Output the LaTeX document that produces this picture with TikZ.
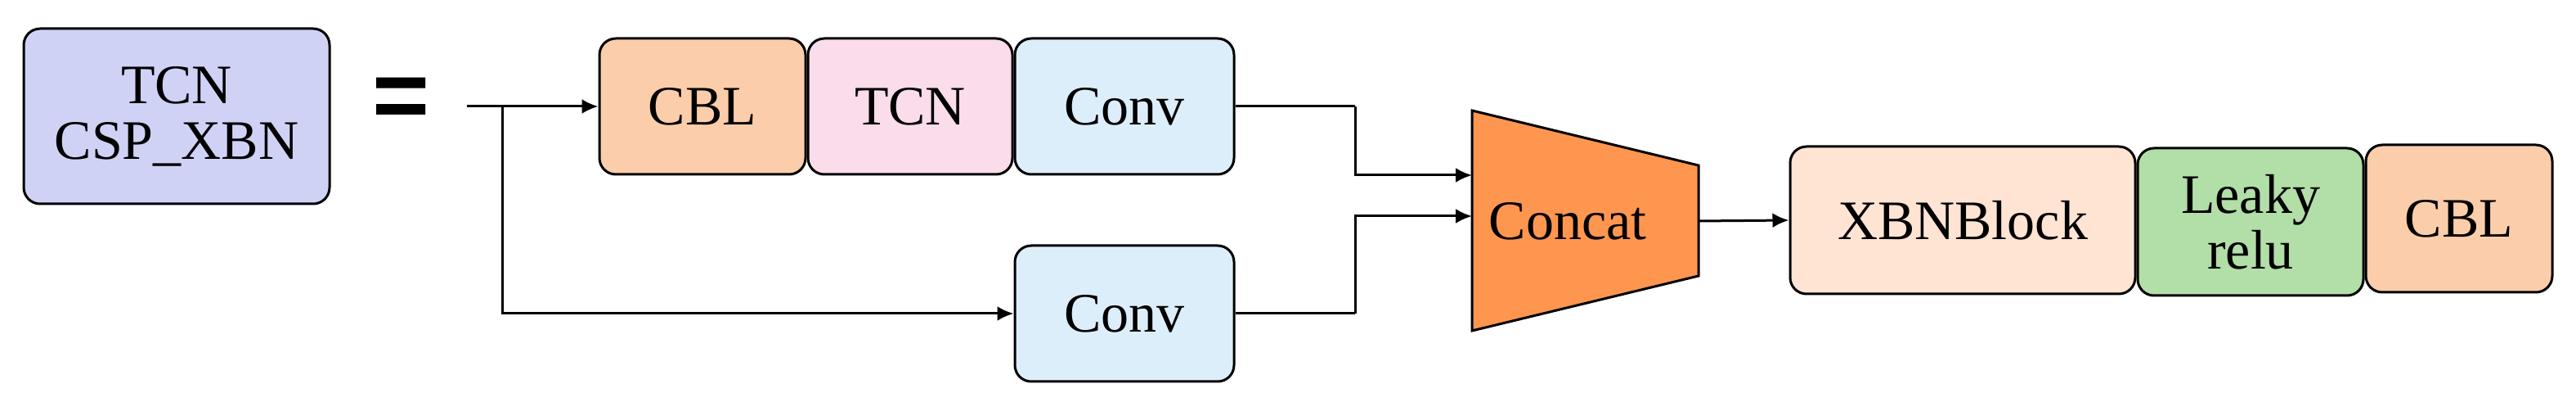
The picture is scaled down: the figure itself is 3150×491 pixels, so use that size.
\documentclass[tikz,border=0pt]{standalone}
\usepackage{fontspec}
\setmainfont{Liberation Serif}
\newfontfamily\eqfont{Liberation Sans}
\usetikzlibrary{arrows.meta}
\definecolor{lavender}{RGB}{208,210,245}
\definecolor{peach}{RGB}{252,205,170}
\definecolor{pinkish}{RGB}{250,220,235}
\definecolor{skyish}{RGB}{220,238,250}
\definecolor{catorange}{RGB}{255,150,80}
\definecolor{cream}{RGB}{255,228,212}
\definecolor{leafy}{RGB}{178,222,168}
\tikzset{
  blk/.style={draw, line width=1.5pt, rounded corners=10pt, inner sep=0pt,
    align=center, font=\fontsize{34}{38}\selectfont},
  link/.style={line width=1.5pt},
  arr/.style={link, -{Latex[length=10pt,width=9pt]}}
}
\begin{document}
\begin{tikzpicture}[x=0.5pt,y=-0.5pt]
        \useasboundingbox (0,0) rectangle (3150,491);

        % Left: module name
        \node[blk, fill=lavender, minimum width=187pt, minimum height=107pt] (name) at (216,142) {TCN\\[-4pt]CSP\_XBN};
        \node[font=\eqfont\bfseries\fontsize{60}{60}\selectfont] (eq) at (491,126) {=};

        % Upper branch
        \node[blk, fill=peach, minimum width=126pt, minimum height=83pt] (cbl) at (859,130) {CBL};
        \node[blk, fill=pinkish, minimum width=125pt, minimum height=83pt] (tcn) at (1113,130) {TCN};
        \node[blk, fill=skyish, minimum width=134pt, minimum height=83pt] (convA) at (1375,130) {Conv};

        % Lower branch
        \node[blk, fill=skyish, minimum width=134pt, minimum height=83pt] (convB) at (1375,383) {Conv};

        % Concat trapezoid
        \draw[link, fill=catorange] (1800,135) -- (2077,202) -- (2077,337) -- (1800,404) -- cycle;
        \node[font=\fontsize{34}{38}\selectfont] (cat) at (1917,270) {Concat};
        \coordinate (catA) at (1800,214);
        \coordinate (catB) at (1800,264);
        \coordinate (catOut) at (2077,270);

        % Output chain
        \node[blk, fill=cream, minimum width=211pt, minimum height=90pt] (xbn) at (2400,269) {XBNBlock};
        \node[blk, fill=leafy, minimum width=138pt, minimum height=90pt] (leaky) at (2752,271) {Leaky\\[-4pt]relu};
        \node[blk, fill=peach, minimum width=114pt, minimum height=90pt] (cblB) at (3007,267) {CBL};

        % Connectors
        \coordinate (in) at (571,130);
        \coordinate (split) at (614,130);
        \coordinate (joinA) at (1657,130);
        \coordinate (joinB) at (1657,383);
        \draw[arr] (in) -- (cbl.west);
        \draw[arr] (split) |- (convB.west);
        \draw[link] (convA.east) -- (joinA);
        \draw[arr] (joinA) |- (catA);
        \draw[link] (convB.east) -- (joinB);
        \draw[arr] (joinB) |- (catB);
        \draw[arr] (catOut) -- (xbn.west);
\end{tikzpicture}
\end{document}
